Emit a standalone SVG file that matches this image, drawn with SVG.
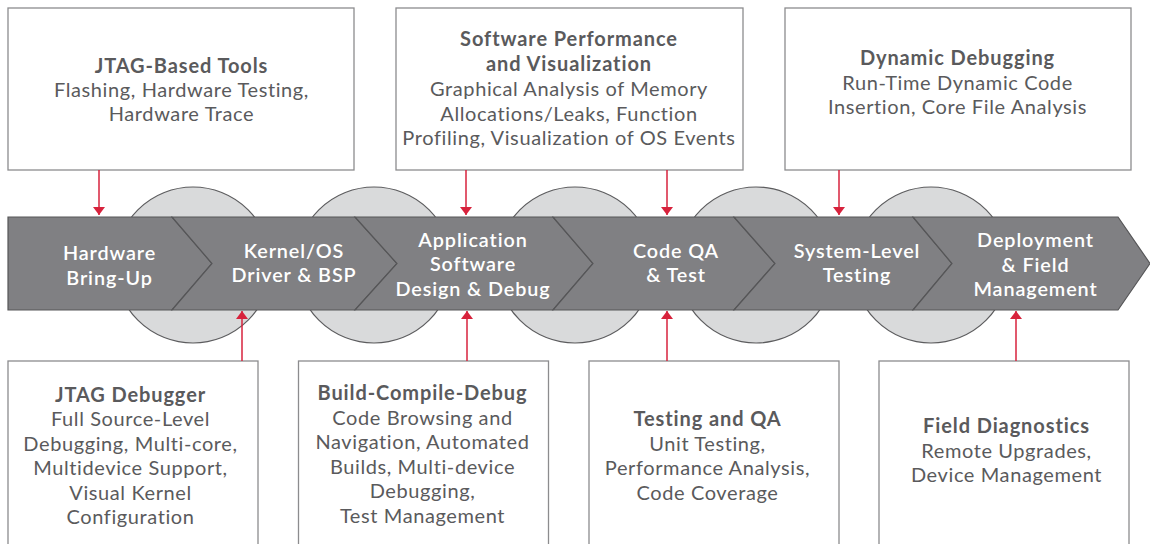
<svg xmlns="http://www.w3.org/2000/svg" width="1150" height="544" viewBox="0 0 1150 544">
<style>
.box{fill:#ffffff;stroke:#8c8c8e;stroke-width:1.3}
.circ{fill:#d9dadb;stroke:#5c5c5e;stroke-width:1.2}
.seg{fill:#808083;stroke:#565658;stroke-width:1.2;stroke-linejoin:miter}
.t{font-family:Lato,"Open Sans","Liberation Sans",sans-serif;font-size:20px;letter-spacing:0.6px;fill:#5a5a5c;text-anchor:middle}
.h{font-weight:700;letter-spacing:0.9px}
.w{font-family:Lato,"Open Sans","Liberation Sans",sans-serif;font-size:19.8px;font-weight:600;letter-spacing:0.9px;fill:#ffffff;text-anchor:middle}
.ar{stroke:#d7223c;stroke-width:1.5;fill:none}
</style>
<defs>
<marker id="ah" viewBox="0 0 8 12" refX="8" refY="6" markerWidth="8" markerHeight="12" markerUnits="userSpaceOnUse" orient="auto">
<path d="M0,0 L8,6 L0,12 z" fill="#d7223c"/>
</marker>
</defs>
<rect width="1150" height="544" fill="#ffffff"/>

<g id="circles">
<circle class="circ" cx="193" cy="265" r="78"/>
<circle class="circ" cx="374" cy="265" r="78"/>
<circle class="circ" cx="575" cy="265" r="78"/>
<circle class="circ" cx="756" cy="265" r="78"/>
<circle class="circ" cx="931" cy="265" r="78"/>
</g>

<g id="stage1">
<polygon class="seg" points="8,217 172,217 212,263.5 172,310 8,310"/>
<text class="w" x="109.5" y="260">Hardware</text>
<text class="w" x="109.5" y="285">Bring-Up</text>
</g>
<g id="stage2">
<polygon class="seg" points="172,217 355,217 397,263.5 355,310 172,310 212,263.5"/>
<text class="w" x="294" y="257.5">Kernel/OS</text>
<text class="w" x="294" y="282">Driver &amp; BSP</text>
</g>
<g id="stage3">
<polygon class="seg" points="355,217 553,217 593,263.5 553,310 355,310 397,263.5"/>
<text class="w" x="473" y="247">Application</text>
<text class="w" x="473" y="271.2">Software</text>
<text class="w" x="473" y="295.5">Design &amp; Debug</text>
</g>
<g id="stage4">
<polygon class="seg" points="553,217 734,217 775,263.5 734,310 553,310 593,263.5"/>
<text class="w" x="676" y="257.5">Code QA</text>
<text class="w" x="676" y="282">&amp; Test</text>
</g>
<g id="stage5">
<polygon class="seg" points="734,217 913,217 952,263.5 913,310 734,310 775,263.5"/>
<text class="w" x="857" y="257.5">System-Level</text>
<text class="w" x="857" y="282">Testing</text>
</g>
<g id="stage6">
<polygon class="seg" points="913,217 1118,217 1150,263.5 1118,310 913,310 952,263.5"/>
<text class="w" x="1035.5" y="247">Deployment</text>
<text class="w" x="1035.5" y="271.5">&amp; Field</text>
<text class="w" x="1035.5" y="296">Management</text>
</g>

<g id="jtag-tools">
<rect class="box" x="8" y="8" width="346" height="162"/>
<text class="t h" x="181.5" y="72.5">JTAG-Based Tools</text>
<text class="t" x="181.5" y="96.5">Flashing, Hardware Testing,</text>
<text class="t" x="181.5" y="120.7">Hardware Trace</text>
</g>
<g id="sw-perf">
<rect class="box" x="396" y="8" width="347" height="162"/>
<text class="t h" x="569" y="46">Software Performance</text>
<text class="t h" x="569" y="71">and Visualization</text>
<text class="t" x="569" y="96">Graphical Analysis of Memory</text>
<text class="t" x="569" y="120.5">Allocations/Leaks, Function</text>
<text class="t" x="569" y="145">Profiling, Visualization of OS Events</text>
</g>
<g id="dyn-debug">
<rect class="box" x="785" y="8" width="346" height="162"/>
<text class="t h" x="957.5" y="65">Dynamic Debugging</text>
<text class="t" x="957.5" y="89.5">Run-Time Dynamic Code</text>
<text class="t" x="957.5" y="113.7">Insertion, Core File Analysis</text>
</g>

<g id="jtag-debugger">
<rect class="box" x="8" y="361" width="250" height="200"/>
<text class="t h" x="130.5" y="401.5">JTAG Debugger</text>
<text class="t" x="130.5" y="426">Full Source-Level</text>
<text class="t" x="130.5" y="450.5">Debugging, Multi-core,</text>
<text class="t" x="130.5" y="475">Multidevice Support,</text>
<text class="t" x="130.5" y="499.5">Visual Kernel</text>
<text class="t" x="130.5" y="524">Configuration</text>
</g>
<g id="build">
<rect class="box" x="298.5" y="361" width="250" height="200"/>
<text class="t h" x="422.5" y="400">Build-Compile-Debug</text>
<text class="t" x="422.5" y="424.5">Code Browsing and</text>
<text class="t" x="422.5" y="449">Navigation, Automated</text>
<text class="t" x="422.5" y="473.5">Builds, Multi-device</text>
<text class="t" x="422.5" y="498">Debugging,</text>
<text class="t" x="422.5" y="522.5">Test Management</text>
</g>
<g id="testing">
<rect class="box" x="589" y="361" width="250" height="200"/>
<text class="t h" x="707.5" y="426">Testing and QA</text>
<text class="t" x="707.5" y="450.5">Unit Testing,</text>
<text class="t" x="707.5" y="475">Performance Analysis,</text>
<text class="t" x="707.5" y="499.5">Code Coverage</text>
</g>
<g id="field">
<rect class="box" x="879" y="361" width="250" height="200"/>
<text class="t h" x="1006.5" y="433">Field Diagnostics</text>
<text class="t" x="1006.5" y="457.5">Remote Upgrades,</text>
<text class="t" x="1006.5" y="482">Device Management</text>
</g>

<g id="connectors">
<line class="ar" x1="99" y1="170" x2="99" y2="215" marker-end="url(#ah)"/>
<line class="ar" x1="466" y1="170" x2="466" y2="215" marker-end="url(#ah)"/>
<line class="ar" x1="667" y1="170" x2="667" y2="215" marker-end="url(#ah)"/>
<line class="ar" x1="839" y1="170" x2="839" y2="215" marker-end="url(#ah)"/>
<line class="ar" x1="242" y1="361" x2="242" y2="311" marker-end="url(#ah)"/>
<line class="ar" x1="467" y1="361" x2="467" y2="311" marker-end="url(#ah)"/>
<line class="ar" x1="667" y1="361" x2="667" y2="311" marker-end="url(#ah)"/>
<line class="ar" x1="1016" y1="361" x2="1016" y2="311" marker-end="url(#ah)"/>
</g>
</svg>
